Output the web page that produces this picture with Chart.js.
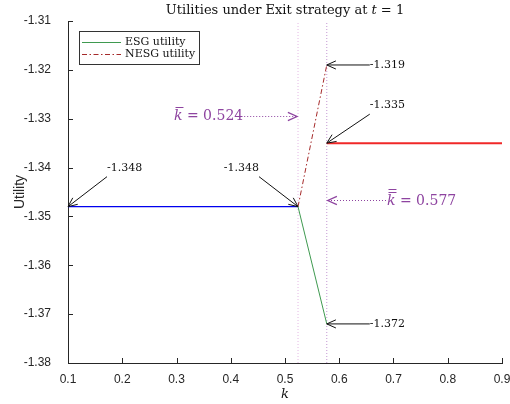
<!DOCTYPE html>
<html><head><meta charset="utf-8">
<script src="https://cdn.jsdelivr.net/npm/chart.js@4.4.0/dist/chart.umd.min.js"></script>
<style>html,body{margin:0;padding:0;background:#fff}#wrap{width:510px;height:404px}</style>
</head><body><div id="wrap"><canvas id="c" width="510" height="404"></canvas></div>
<script>
// ---- data ----
const kBar = 0.524;          // k-bar threshold
const kBarBar = 0.577;       // k-double-bar threshold
const blueX = [0.1, 0.524];
const blueY = [-1.348, -1.348];
const esgX = [0.524, 0.577];
const esgY = [-1.348, -1.372];
const nesgX = [0.524, 0.577];
const nesgY = [-1.348, -1.319];
const redX = [0.577, 0.9];
const redY = [-1.335, -1.335];
const yRange = [-1.38, -1.31];
const xRange = [0.1, 0.9];
const annotX = [0.1, 0.524, 0.577, 0.577, 0.577];
const annotY = [-1.348, -1.348, -1.319, -1.335, -1.372];
const annotLabels = ['-1.348', '-1.348', '-1.319', '-1.335', '-1.372'];
const kLabels = ['0.524', '0.577'];
const legendLabels = ['ESG utility', 'NESG utility'];
const titleParts = ['Utilities under Exit strategy at ', 't', ' = 1'];
const xTitle = 'k';
const yTitle = 'Utility';

// ---- styles ----
const AXIS = '#262626';
const PURPLE = '#8e44a0';
const SERIF = '"DejaVu Serif", serif';
const annotStyle = [ // tail offset (px), text mode
  {dx: 39, dy: -30, mode: 'aboveLeft'},
  {dx: -39, dy: -30, mode: 'aboveRight'},
  {dx: 43, dy: 0, mode: 'inline'},
  {dx: 43, dy: -29, mode: 'aboveLeft'},
  {dx: 43, dy: 0, mode: 'inline'}
];

const pts = (xs, ys) => xs.map((v, i) => ({x: v, y: ys[i]}));

function arrowHead(ctx, tx, ty, hx, hy, len, ang) {
  const a = Math.atan2(ty - hy, tx - hx);
  ctx.beginPath();
  ctx.moveTo(hx + len * Math.cos(a + ang), hy + len * Math.sin(a + ang));
  ctx.lineTo(hx, hy);
  ctx.lineTo(hx + len * Math.cos(a - ang), hy + len * Math.sin(a - ang));
  ctx.stroke();
}

const overlay = {
  id: 'overlay',
  afterDraw(chart) {
    const {ctx, chartArea: a} = chart;
    const x = chart.scales.x, y = chart.scales.y;
    ctx.save();
    // inward ticks
    ctx.strokeStyle = AXIS; ctx.lineWidth = 1;
    x.ticks.forEach(t => {
      const px = Math.round(x.getPixelForValue(t.value)) + 0.5;
      ctx.beginPath(); ctx.moveTo(px, a.bottom); ctx.lineTo(px, a.bottom - 5); ctx.stroke();
    });
    y.ticks.forEach(t => {
      const py = Math.round(y.getPixelForValue(t.value)) + 0.5;
      ctx.beginPath(); ctx.moveTo(a.left, py); ctx.lineTo(a.left + 5, py); ctx.stroke();
    });

    // x axis title
    ctx.fillStyle = '#111'; ctx.textAlign = 'center'; ctx.textBaseline = 'middle';
    ctx.font = 'italic 13px ' + SERIF;
    ctx.fillText(xTitle, (a.left + a.right) / 2, 395);

    // black annotation arrows
    ctx.font = '11px ' + SERIF;
    ctx.fillStyle = '#111';
    annotX.forEach((vx, i) => {
      const hx = x.getPixelForValue(vx), hy = y.getPixelForValue(annotY[i]);
      const s = annotStyle[i];
      const tx = hx + s.dx, ty = hy + s.dy;
      ctx.strokeStyle = '#111'; ctx.lineWidth = 1;
      ctx.beginPath(); ctx.moveTo(tx, ty); ctx.lineTo(hx, hy); ctx.stroke();
      arrowHead(ctx, tx, ty, hx, hy, 10, 0.42);
      ctx.textBaseline = 'middle';
      if (s.mode === 'inline') { ctx.textAlign = 'left'; ctx.fillText(annotLabels[i], tx, ty); }
      else if (s.mode === 'aboveLeft') { ctx.textAlign = 'left'; ctx.fillText(annotLabels[i], tx, ty - 9); }
      else { ctx.textAlign = 'right'; ctx.fillText(annotLabels[i], tx, ty - 9); }
    });

    // purple k annotations
    function kText(left, cy, bars, val) {
      ctx.fillStyle = PURPLE; ctx.strokeStyle = PURPLE;
      ctx.textAlign = 'left'; ctx.textBaseline = 'middle';
      ctx.font = 'italic 14px ' + SERIF;
      ctx.fillText('k', left, cy);
      const kw = ctx.measureText('k').width;
      ctx.lineWidth = 1;
      for (let b = 0; b < bars; b++) {
        const by = cy - 8.5 - b * 3;
        ctx.beginPath(); ctx.moveTo(left + 1.5, by); ctx.lineTo(left + kw + 1, by); ctx.stroke();
      }
      ctx.font = '14px ' + SERIF;
      const rest = ' = ' + val;
      ctx.fillText(rest, left + kw, cy);
      return left + kw + ctx.measureText(rest).width;
    }
    function dotArrow(x0, y0, x1, y1) {
      ctx.strokeStyle = PURPLE; ctx.lineWidth = 1;
      ctx.setLineDash([1, 2]);
      ctx.beginPath(); ctx.moveTo(x0, y0); ctx.lineTo(x1, y1); ctx.stroke();
      ctx.setLineDash([]);
      ctx.lineWidth = 1.3;
      arrowHead(ctx, x0, y0, x1, y1, 10, 0.42);
    }
    const k1x = x.getPixelForValue(kBar), k2x = x.getPixelForValue(kBarBar);
    const end1 = kText(174, 116, 1, kLabels[0]);
    dotArrow(end1 + 1, 116.5, k1x - 1, 116.5);
    kText(387, 201, 2, kLabels[1]);
    dotArrow(386, 200.5, k2x + 1, 200.5);

    // title
    ctx.fillStyle = '#111'; ctx.textBaseline = 'middle'; ctx.textAlign = 'left';
    const fN = '13px ' + SERIF, fI = 'italic 13px ' + SERIF;
    ctx.font = fN; const w0 = ctx.measureText(titleParts[0]).width, w2 = ctx.measureText(titleParts[2]).width;
    ctx.font = fI; const w1 = ctx.measureText(titleParts[1]).width;
    let tx0 = (a.left + a.right) / 2 - (w0 + w1 + w2) / 2;
    ctx.font = fN; ctx.fillText(titleParts[0], tx0, 11);
    ctx.font = fI; ctx.fillText(titleParts[1], tx0 + w0, 11);
    ctx.font = fN; ctx.fillText(titleParts[2], tx0 + w0 + w1, 11);

    // legend
    ctx.fillStyle = '#fff'; ctx.fillRect(79, 31, 121, 34);
    ctx.strokeStyle = '#333'; ctx.lineWidth = 1; ctx.strokeRect(79.5, 31.5, 120, 33);
    const ds = chart.data.datasets;
    [0, 1].forEach(i => {
      const ly = 42.5 + i * 12;
      ctx.strokeStyle = ds[i].borderColor; ctx.lineWidth = 1;
      ctx.setLineDash(ds[i].borderDash || []);
      ctx.beginPath(); ctx.moveTo(82, ly); ctx.lineTo(121, ly); ctx.stroke();
      ctx.setLineDash([]);
      ctx.fillStyle = '#111'; ctx.font = '11px ' + SERIF;
      ctx.fillText(legendLabels[i], 125, ly);
    });
    ctx.restore();
  }
};

new Chart(document.getElementById('c'), {
  type: 'scatter',
  data: {
    datasets: [
      {label: legendLabels[0], data: pts(esgX, esgY), showLine: true, borderColor: '#3f9a50', borderWidth: 1, pointRadius: 0},
      {label: legendLabels[1], data: pts(nesgX, nesgY), showLine: true, borderColor: '#a52a2a', borderWidth: 1, borderDash: [5, 2.5, 1.5, 2.5], pointRadius: 0},
      {label: 'blue', data: pts(blueX, blueY), showLine: true, borderColor: '#0000ee', borderWidth: 1.3, pointRadius: 0},
      {label: 'red', data: pts(redX, redY), showLine: true, borderColor: '#f02828', borderWidth: 2, pointRadius: 0},
      {label: 'kbar', data: pts([kBar, kBar], yRange), showLine: true, borderColor: '#e4b8e4', borderWidth: 1, borderDash: [1, 2], pointRadius: 0},
      {label: 'kbarbar', data: pts([kBarBar, kBarBar], yRange), showLine: true, borderColor: '#c396d3', borderWidth: 1, borderDash: [1, 2], pointRadius: 0}
    ]
  },
  options: {
    responsive: false, animation: false,
    layout: {padding: {top: 21, right: 8, left: 0, bottom: 0}},
    plugins: {legend: {display: false}, tooltip: {enabled: false}, title: {display: false}},
    scales: {
      x: {
        type: 'linear', min: xRange[0], max: xRange[1],
        afterFit: s => { s.height = 41; s.paddingLeft = 0; s.paddingRight = 0; },
        grid: {display: false},
        border: {display: true, color: AXIS, width: 1},
        ticks: {stepSize: 0.1, color: AXIS, padding: 1, maxRotation: 0, font: {family: '"Liberation Sans", Arial, sans-serif', size: 12},
          callback: v => Number(v).toFixed(1)},
        title: {display: false}
      },
      y: {
        type: 'linear', min: yRange[0], max: yRange[1],
        afterFit: s => { s.width = 68; s.paddingTop = 0; s.paddingBottom = 0; },
        grid: {display: false},
        border: {display: true, color: AXIS, width: 1},
        ticks: {stepSize: 0.01, color: AXIS, padding: 9, font: {family: '"Liberation Sans", Arial, sans-serif', size: 12},
          callback: v => Number(v).toFixed(2)},
        title: {display: true, text: yTitle, color: AXIS, padding: {top: 12, bottom: 0}, font: {family: '"Liberation Sans", Arial, sans-serif', size: 14}}
      }
    }
  },
  plugins: [overlay]
});
</script></body></html>
